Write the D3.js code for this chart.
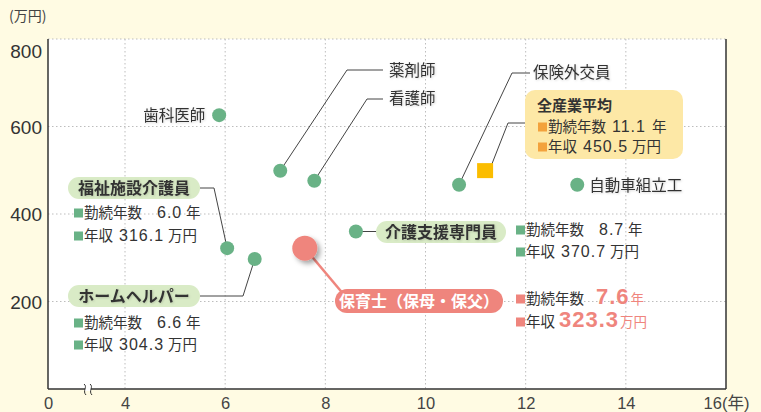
<!DOCTYPE html>
<html lang="ja">
<head>
<meta charset="utf-8">
<title>職種別 勤続年数と年収</title>
<script src="https://d3js.org/d3.v7.min.js"></script>
<style>
  body { margin: 0; background: #fffbe3; }
  text { font-family: "Noto Sans CJK JP", sans-serif; fill: #333; }
  .num { font-family: "Liberation Sans", Arial, sans-serif; letter-spacing: 1px; }
  .tick text { font-family: "Liberation Sans", "Noto Sans CJK JP", sans-serif; }
  .grid line { stroke: #bdbdbd; stroke-dasharray: 1.5 2.5; }
  .lead { fill: none; stroke: #444; stroke-width: 1; }
</style>
</head>
<body>
<svg width="761" height="412"></svg>
<script>
// job categories and the plotted positions (years of service, annual income 万円)
var jobs    = ["歯科医師", "薬剤師", "看護師", "保険外交員", "自動車組立工",
               "福祉施設介護員", "ホームヘルパー", "介護支援専門員", "保育士（保母・保父）"];
var years   = [5.88, 7.1, 7.78, 10.67, 13.03, 6.04, 6.59, 8.61, 7.59];
var incomes = [626, 499, 476, 467, 467, 322, 297, 360, 322];

// all-industry average marker
var avgYears = 11.19, avgIncome = 498;
var avgLabel = {years: "11.1", income: "450.5"};

// figures shown for the care-related jobs
var statJobs    = ["福祉施設介護員", "ホームヘルパー", "介護支援専門員", "保育士（保母・保父）"];
var statYears   = ["6.0", "6.6", "8.7", "7.6"];
var statIncomes = ["316.1", "304.3", "370.7", "323.3"];

var xTicks = [0, 4, 6, 8, 10, 12, 14, 16];
var yTicks = [200, 400, 600, 800];

var green = "#69b286", pink = "#ef857d", pale = "#d9ebc6";

var svg = d3.select("svg");
var defs = svg.append("defs");
defs.append("filter").attr("id", "soft").attr("x", "-20%").attr("y", "-40%").attr("width", "140%").attr("height", "180%")
  .append("feDropShadow").attr("dx", 0.8).attr("dy", 0.8).attr("stdDeviation", 0.8)
  .attr("flood-color", "#000").attr("flood-opacity", 0.18);
defs.append("filter").attr("id", "shadow").attr("x", "-50%").attr("y", "-50%").attr("width", "200%").attr("height", "200%")
  .append("feDropShadow").attr("dx", 3).attr("dy", 3).attr("stdDeviation", 2.5)
  .attr("flood-color", "#000").attr("flood-opacity", 0.35);

// broken x axis: 0 then 4..16
var x = d3.scaleLinear().domain([0, 4, 16]).range([48, 125, 726]);
var y = d3.scaleLinear().domain([0, 800]).range([389, 39]);

svg.append("rect").attr("x", x(0)).attr("y", y(800))
  .attr("width", x(16) - x(0)).attr("height", y(0) - y(800)).attr("fill", "#fff");

// dotted grid
var grid = svg.append("g").attr("class", "grid");
grid.selectAll(".v").data(xTicks.filter(d => d > 0 && d < 16)).join("line")
  .attr("x1", d => x(d)).attr("x2", d => x(d)).attr("y1", y(800)).attr("y2", y(0));
grid.selectAll(".h").data(yTicks).join("line")
  .attr("x1", x(0)).attr("x2", x(16)).attr("y1", d => y(d)).attr("y2", d => y(d));

// frame
svg.append("line").attr("x1", x(0)).attr("x2", x(0)).attr("y1", y(800)).attr("y2", y(0)).attr("stroke", "#333").attr("stroke-width", 1.5);
svg.append("line").attr("x1", x(16)).attr("x2", x(16)).attr("y1", y(800)).attr("y2", y(0)).attr("stroke", "#333").attr("stroke-width", 1.5);
svg.append("line").attr("x1", x(0)).attr("x2", x(16)).attr("y1", y(0)).attr("y2", y(0)).attr("stroke", "#333").attr("stroke-width", 1.5);

// axis break
var bx = 88;
svg.append("rect").attr("x", bx - 3).attr("y", y(0) - 2).attr("width", 6).attr("height", 4).attr("fill", "#fff");
[bx - 3, bx + 3].forEach(function(cx) {
  svg.append("path").attr("fill", "none").attr("stroke", "#333").attr("stroke-width", 1)
    .attr("d", `M${cx - 1},${y(0) - 5} C${cx + 3},${y(0) - 2} ${cx - 3},${y(0) + 2} ${cx + 1},${y(0) + 6}`);
});

// axes (labels only)
var xAxis = svg.append("g").attr("transform", `translate(0, ${y(0)})`)
  .call(d3.axisBottom(x).tickValues(xTicks).tickSize(0).tickPadding(8)
    .tickFormat(d => d === 16 ? "16(年)" : d));
xAxis.select(".domain").remove();
xAxis.selectAll("text").attr("font-size", 16.5).style("fill", "#444");

var yAxis = svg.append("g").attr("transform", `translate(${x(0)}, 0)`)
  .call(d3.axisLeft(y).tickValues(yTicks).tickSize(0).tickPadding(6));
yAxis.select(".domain").remove();
yAxis.selectAll("text").attr("font-size", 19).style("fill", "#333")
  .attr("dy", d => d === 800 ? "0.95em" : "0.35em");

svg.append("text").attr("x", 9).attr("y", 21).attr("font-size", 14).style("fill", "#444").text("(万円)");

var idx = name => jobs.indexOf(name);
var px = name => x(years[idx(name)]);
var py = name => y(incomes[idx(name)]);

// leader lines
var lead = svg.append("g");
function leader(pts) { lead.append("path").attr("class", "lead").attr("d", d3.line()(pts)); }
leader([[px("薬剤師"), py("薬剤師")], [347, 70], [383, 70]]);
leader([[px("看護師"), py("看護師")], [367, 99], [383, 99]]);
leader([[px("保険外交員"), py("保険外交員")], [512, 73], [530, 73]]);
leader([[x(avgYears) + 4, y(avgIncome)], [508, 123], [525, 123]]);
leader([[200, 188], [214, 188], [px("福祉施設介護員"), py("福祉施設介護員")]]);
leader([[200, 296], [243, 296], [px("ホームヘルパー"), py("ホームヘルパー")]]);
leader([[px("介護支援専門員"), py("介護支援専門員")], [377, py("介護支援専門員")]]);
svg.append("line").attr("x1", px("保育士（保母・保父）")).attr("y1", py("保育士（保母・保父）"))
  .attr("x2", 345).attr("y2", 296).attr("stroke", pink).attr("stroke-width", 2.5);

// average marker
svg.append("rect").attr("x", x(avgYears) - 8).attr("y", y(avgIncome) - 8)
  .attr("width", 16).attr("height", 15).attr("fill", "#fbbd00");

// points
svg.append("g").selectAll("circle")
  .data(jobs.filter(j => j !== "保育士（保母・保父）")).join("circle")
  .attr("cx", d => px(d)).attr("cy", d => py(d)).attr("r", 7).attr("fill", green);
svg.append("circle").attr("cx", px("保育士（保母・保父）")).attr("cy", py("保育士（保母・保父）"))
  .attr("r", 12.5).attr("fill", pink).attr("filter", "url(#shadow)");

// plain labels
function label(t, lx, ly, anchor) {
  svg.append("text").attr("x", lx).attr("y", ly).attr("dy", "0.35em").attr("font-size", 15.5)
    .attr("text-anchor", anchor || "start").attr("filter", "url(#soft)").text(t);
}
label("歯科医師", px("歯科医師") - 14, py("歯科医師"), "end");
label("薬剤師", 389, 71);
label("看護師", 389, 99);
label("保険外交員", 533, 73);
label("自動車組立工", px("自動車組立工") + 12, py("自動車組立工") + 1);

// pills
function pill(t, x0, y0, w, h, fill, color) {
  svg.append("rect").attr("x", x0).attr("y", y0).attr("width", w).attr("height", h)
    .attr("rx", h / 2).attr("fill", fill);
  svg.append("text").attr("x", x0 + w / 2).attr("y", y0 + h / 2).attr("dy", "0.36em")
    .attr("text-anchor", "middle").attr("font-size", 16).attr("font-weight", "bold")
    .attr("filter", color === "#fff" ? null : "url(#soft)")
    .style("fill", color).text(t);
}
pill(statJobs[0], 68, 177, 132, 22, pale, "#333");
pill(statJobs[1], 68, 285, 132, 22, pale, "#333");
pill(statJobs[2], 376, 221, 130, 22, pale, "#333");
pill(statJobs[3], 335, 289, 168, 24, pink, "#fff");

// stat rows
function stats(i, x0, y1, y2, sq, opt) {
  opt = opt || {};
  var vx = opt.vx || 83, ux = opt.ux || 112;
  [y1, y2].forEach(function(yy) {
    svg.append("rect").attr("x", x0).attr("y", yy - 4.5).attr("width", 9).attr("height", 9).attr("fill", sq);
  });
  var big = opt.big;
  var t1 = svg.append("text").attr("y", y1).attr("dy", "0.35em").attr("font-size", 14.5);
  t1.append("tspan").attr("x", x0 + 10).text("勤続年数");
  t1.append("tspan").attr("x", x0 + vx).attr("class", "num")
    .attr("font-size", big ? 22 : 16).attr("font-weight", big ? "bold" : null)
    .style("fill", big ? pink : null).text(opt.years || statYears[i]);
  t1.append("tspan").attr("x", big ? null : x0 + ux).attr("dx", big ? 1 : null)
    .attr("font-size", big ? 13.5 : 14.5).style("fill", big ? pink : null).text("年");
  var t2 = svg.append("text").attr("y", y2).attr("dy", "0.35em").attr("font-size", 14.5);
  t2.append("tspan").attr("x", x0 + 10).text("年収");
  t2.append("tspan").attr("dx", big ? 4 : 6).attr("class", "num")
    .attr("font-size", big ? 22 : 16).attr("font-weight", big ? "bold" : null)
    .style("fill", big ? pink : null).text(opt.income || statIncomes[i]);
  t2.append("tspan").attr("dx", big ? 1 : 4).attr("font-size", big ? 13.5 : 14.5)
    .style("fill", big ? pink : null).text("万円");
}
stats(0, 74, 213, 236, green);
stats(1, 74, 323, 345, green);
stats(2, 516, 230, 252, green);
stats(3, 516, 299, 322, pink, {big: true, vx: 80});

// all-industry average box
svg.append("rect").attr("x", 525).attr("y", 90).attr("width", 158).attr("height", 69)
  .attr("rx", 10).attr("fill", "#fde8a6");
svg.append("text").attr("x", 537).attr("y", 106).attr("dy", "0.35em").attr("font-size", 15)
  .attr("font-weight", "bold").text("全産業平均");
stats(-1, 538, 127, 147, "#f3a23c", {vx: 74, ux: 114, years: avgLabel.years, income: avgLabel.income});
</script>
</body>
</html>
